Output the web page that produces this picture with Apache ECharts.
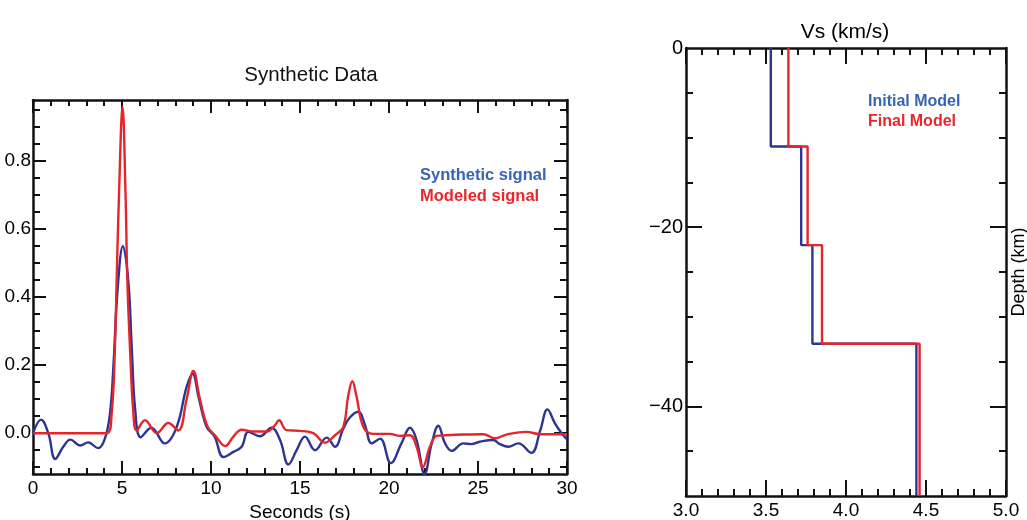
<!DOCTYPE html>
<html>
<head>
<meta charset="utf-8">
<title>Synthetic Data / Vs model</title>
<script src="https://cdn.jsdelivr.net/npm/echarts@6/dist/echarts.min.js"></script>
<style>
  html, body { margin: 0; padding: 0; background: #fff; }
  #chart { width: 1027px; height: 520px; }
</style>
</head>
<body>
<div id="chart"></div>
<script>
// ---- left panel: synthetic vs modeled signal (seconds, amplitude)
var synthTime = [0, 0.45, 0.86, 1.25, 1.7, 2.1, 2.65, 3.1, 3.65, 4.04, 4.33, 4.52, 4.75, 5.05, 5.35, 5.55, 5.74, 6.05, 6.65, 7.4,
  8.07, 8.63, 8.97, 9.3, 9.76, 10.2, 10.7, 11.26, 11.72, 12.1, 12.75, 13.4, 13.88, 14.35, 14.81, 15.28, 15.84, 16.5, 16.97, 17.43,
  17.8, 18.28, 18.65, 19.03, 19.5, 20.1, 20.7, 21.18, 21.55, 22.0, 22.4, 22.77, 23.15, 23.52, 24.17, 24.64, 25.1, 25.86, 26.23, 26.7,
  27.27, 28.0, 28.5, 28.9, 29.33, 29.7, 30];
var synthVal = [0.0, 0.04, 0.0, -0.076, -0.04, -0.019, -0.036, -0.027, -0.044, -0.016, 0.06, 0.2, 0.42, 0.55, 0.45, 0.25, 0.07, -0.012, 0.016, -0.03,
  0.018, 0.136, 0.175, 0.107, 0.018, -0.01, -0.07, -0.055, -0.04, 0.004, -0.009, 0.016, -0.02, -0.092, -0.05, -0.01, -0.05, -0.013, -0.04, 0.013,
  0.046, 0.063, 0.024, -0.03, -0.016, -0.088, -0.03, 0.016, -0.02, -0.12, -0.03, 0.022, -0.03, -0.052, -0.03, -0.032, -0.025, -0.02, -0.032, -0.04,
  -0.03, -0.058, 0.009, 0.07, 0.028, 0.0, -0.018];

var modelTime = [0, 4.14, 4.42, 4.6, 4.7, 4.83, 5.03, 5.2, 5.3, 5.45, 5.64, 5.82, 6.29, 6.95, 7.6, 8.16, 8.63, 9.01, 9.38, 9.8,
  10.25, 10.8, 11.26, 11.72, 12.4, 13.13, 13.6, 13.82, 14.25, 15.0, 15.75, 16.4, 16.97, 17.43, 17.7, 17.94, 18.18, 18.56, 19.1, 20.05,
  20.6, 21.18, 21.55, 21.9, 22.3, 22.68, 23.24, 24.17, 25.3, 25.95, 26.6, 27.7, 28.5, 30];
var modelVal = [0, 0, 0.058, 0.25, 0.45, 0.7, 0.96, 0.7, 0.45, 0.25, 0.058, 0.008, 0.038, 0.0, 0.03, 0.008, 0.1, 0.183, 0.1, 0.02,
  -0.008, -0.038, -0.01, 0.01, 0.005, 0.005, 0.024, 0.038, 0.009, 0.007, 0.0, -0.028, -0.006, 0.018, 0.107, 0.153, 0.107, 0.018, -0.002, -0.002,
  -0.008, -0.006, -0.04, -0.1, -0.04, -0.008, -0.006, -0.004, -0.003, -0.015, -0.004, 0.004, -0.003, -0.003];

var ampLabels = [0, 0.2, 0.4, 0.6, 0.8];
var ampMinor = [-0.1, -0.05, 0.05, 0.1, 0.15, 0.25, 0.3, 0.35, 0.45, 0.5, 0.55, 0.65, 0.7, 0.75, 0.85, 0.9, 0.95];

// ---- right panel: Vs layer model
var layerTop = [0, 11, 22, 33];   // km
var modelBottom = 50;
var initialVs = [3.53, 3.72, 3.79, 4.44];
var finalVs = [3.64, 3.76, 3.85, 4.46];

var depthLabels = [0, -20, -40];
var depthMajor = [-20, -40];
var depthMinor = [-5, -10, -15, -25, -30, -35, -45];

function zip(a, b) {
  return a.map(function (v, i) { return [v, b[i]]; });
}
// turn layer velocities into a stepped profile [vs, -depth]
function stepProfile(vs) {
  var pts = [];
  vs.forEach(function (v, i) {
    var bot = i + 1 < layerTop.length ? layerTop[i + 1] : modelBottom;
    pts.push([v, -layerTop[i]]);
    pts.push([v, -bot]);
  });
  return pts;
}

var BLUE = '#2d3592';
var RED = '#e2262b';
var AXIS = '#111';
var narrow = "'Liberation Sans Narrow', 'Liberation Sans', Arial, sans-serif";
var sans = "'Liberation Sans', Arial, sans-serif";

function boxX(grid, pos, min, max, interval, major, minor, showLabel, fmt) {
  return {
    type: 'value', gridIndex: grid, position: pos, min: min, max: max, interval: interval,
    axisLine: { show: true, onZero: false, lineStyle: { color: AXIS, width: 2.5 } },
    axisTick: { show: true, inside: true, length: major, lineStyle: { color: AXIS, width: 2 } },
    minorTick: { show: true, splitNumber: 5, length: minor, lineStyle: { color: AXIS, width: 2 } },
    axisLabel: { show: showLabel, color: '#000', fontFamily: narrow, fontSize: 19, margin: 5, formatter: fmt },
    splitLine: { show: false }, minorSplitLine: { show: false }
  };
}
function tickY(grid, pos, min, max, values, len, line) {
  return {
    type: 'value', gridIndex: grid, position: pos, min: min, max: max,
    axisLine: { show: line, onZero: false, lineStyle: { color: AXIS, width: 2.5 } },
    axisTick: { show: true, inside: true, length: len, customValues: values, lineStyle: { color: AXIS, width: 2 } },
    axisLabel: { show: false },
    splitLine: { show: false }
  };
}

var chart = echarts.init(document.getElementById('chart'));

var yAxes = [];
// left panel y
var yAmp = tickY(0, 'left', -0.12, 0.98, ampLabels, 13, true);
yAmp.axisLabel = { show: true, customValues: ampLabels, color: '#000', fontFamily: narrow, fontSize: 19, margin: 2,
  formatter: function (v) { return v.toFixed(1); } };
yAxes.push(yAmp);
yAxes.push(tickY(0, 'left', -0.12, 0.98, ampMinor, 7, false));
yAxes.push(tickY(0, 'right', -0.12, 0.98, ampLabels, 13, true));
yAxes.push(tickY(0, 'right', -0.12, 0.98, ampMinor, 7, false));
// right panel y
var yDepth = tickY(1, 'left', -50, 0, depthMajor, 16, true);
yDepth.axisLabel = { show: true, customValues: depthLabels, color: '#000', fontFamily: narrow, fontSize: 20, margin: 3,
  formatter: function (v) { return v < 0 ? '\u2212' + Math.abs(v) : String(v); } };
yAxes.push(yDepth);
yAxes.push(tickY(1, 'left', -50, 0, depthMinor, 7, false));
var yDepthR = tickY(1, 'right', -50, 0, depthMajor, 16, true);
yDepthR.name = 'Depth (km)';
yDepthR.nameLocation = 'middle';
yDepthR.nameGap = 4;
yDepthR.nameTextStyle = { color: '#000', fontFamily: sans, fontSize: 18 };
yAxes.push(yDepthR);
yAxes.push(tickY(1, 'right', -50, 0, depthMinor, 7, false));

var xSec = boxX(0, 'bottom', 0, 30, 5, 13, 6, true);
xSec.name = 'Seconds (s)';
xSec.nameLocation = 'middle';
xSec.nameGap = 27;
xSec.nameTextStyle = { color: '#000', fontFamily: sans, fontSize: 19 };

var option = {
  animation: false,
  backgroundColor: '#fff',
  title: [
    { text: 'Synthetic Data', left: 311, top: 65, textAlign: 'center', padding: 0,
      textStyle: { fontFamily: sans, fontSize: 20.5, fontWeight: 'normal', color: '#111' } },
    { text: 'Vs (km/s)', left: 845, top: 22, textAlign: 'center', padding: 0,
      textStyle: { fontFamily: narrow, fontSize: 21, fontWeight: 'normal', color: '#000' } }
  ],
  legend: [
    { orient: 'vertical', left: 415, top: 167, icon: 'none', itemWidth: 0, itemHeight: 17, itemGap: 4, padding: 0,
      selectedMode: false,
      textStyle: { fontFamily: sans, fontSize: 16.5, fontWeight: 'bold' },
      data: [
        { name: 'Synthetic signal', textStyle: { color: '#3764b4' } },
        { name: 'Modeled signal', textStyle: { color: '#e8262b' } }
      ] },
    { orient: 'vertical', left: 863, top: 93, icon: 'none', itemWidth: 0, itemHeight: 17, itemGap: 4, padding: 0,
      selectedMode: false,
      textStyle: { fontFamily: sans, fontSize: 16, fontWeight: 'bold' },
      data: [
        { name: 'Initial Model', textStyle: { color: '#3764b4' } },
        { name: 'Final Model', textStyle: { color: '#e8262b' } }
      ] }
  ],
  grid: [
    { left: 33, top: 100, width: 534, height: 374, outerBoundsMode: 'none', containLabel: false },
    { left: 686, top: 48, width: 320, height: 448, outerBoundsMode: 'none', containLabel: false }
  ],
  xAxis: [
    xSec,
    boxX(0, 'top', 0, 30, 5, 13, 6, false),
    boxX(1, 'bottom', 3, 5, 0.5, 16, 7, true, function (v) { return v.toFixed(1); }),
    boxX(1, 'top', 3, 5, 0.5, 16, 7, false)
  ],
  yAxis: yAxes,
  series: [
    { name: 'Synthetic signal', type: 'line', xAxisIndex: 0, yAxisIndex: 0, data: zip(synthTime, synthVal),
      smooth: 0.4, showSymbol: false, lineStyle: { color: BLUE, width: 2.4 }, itemStyle: { color: BLUE } },
    { name: 'Modeled signal', type: 'line', xAxisIndex: 0, yAxisIndex: 0, data: zip(modelTime, modelVal),
      smooth: 0.4, showSymbol: false, lineStyle: { color: RED, width: 2.4 }, itemStyle: { color: RED } },
    { name: 'Initial Model', type: 'line', xAxisIndex: 2, yAxisIndex: 4, data: stepProfile(initialVs),
      showSymbol: false, lineStyle: { color: BLUE, width: 2.4 }, itemStyle: { color: BLUE } },
    { name: 'Final Model', type: 'line', xAxisIndex: 2, yAxisIndex: 4, data: stepProfile(finalVs),
      showSymbol: false, lineStyle: { color: RED, width: 2.4 }, itemStyle: { color: RED } }
  ]
};
chart.setOption(option);
</script>
</body>
</html>
